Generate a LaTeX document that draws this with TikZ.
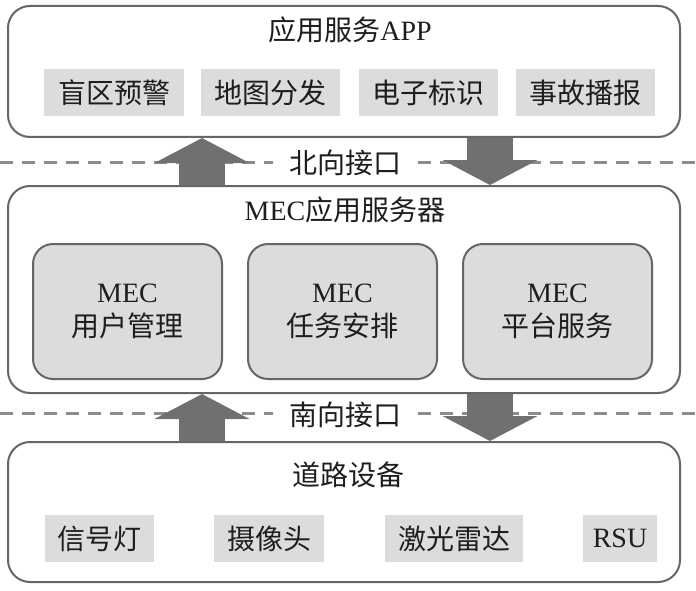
\documentclass[tikz,border=0pt]{standalone}
\usepackage{fontspec}
\setmainfont{Liberation Serif}
\newfontfamily\cjk{Noto Sans CJK SC}
\usetikzlibrary{arrows.meta}
\definecolor{bordergray}{HTML}{666666}
\definecolor{arrowgray}{HTML}{707070}
\definecolor{dashgray}{HTML}{8C8C8C}
\definecolor{labelgray}{HTML}{DCDCDC}
\definecolor{textdark}{HTML}{1E1E1E}
\tikzset{
  bigbox/.style={draw=bordergray, line width=2pt, fill=white, rounded corners=22pt, minimum width=672pt},
  mecbox/.style={draw=bordergray, line width=2pt, fill=labelgray, rounded corners=20pt,
                 minimum width=189pt, minimum height=135pt, align=center, text=textdark,
                 font=\fontsize{28}{34}\selectfont},
  titletext/.style={text=textdark, font=\fontsize{28}{34}\selectfont, inner sep=0pt},
  tag/.style={fill=labelgray, minimum height=47pt, inner sep=0pt, text=textdark,
              font=\fontsize{28}{34}\selectfont},
  dashline/.style={draw=dashgray, line width=3pt, dash pattern=on 13pt off 9pt},
  fatarrow/.style={draw=arrowgray, line width=46pt,
                   -{Triangle[length=25pt,width=95pt,line width=0pt]}},
  iface/.style={fill=white, inner xsep=16pt, inner ysep=3pt, text=textdark,
                font=\fontsize{28}{34}\selectfont}
}
\begin{document}
\begin{tikzpicture}[x=1pt,y=-1pt]
\useasboundingbox (0,0) rectangle (696,591);
% dashed separators
\coordinate (dl1) at (0,162); \coordinate (dr1) at (696,162);
\coordinate (dl2) at (0,413); \coordinate (dr2) at (696,413);
\draw[dashline] (dl1) -- (dr1);
\draw[dashline] (dl2) -- (dr2);
% layer boxes
\node[bigbox, minimum height=131pt] (app) at (344,71.5) {};
\node[bigbox, minimum height=207pt] (mec) at (344,289.5) {};
\node[bigbox, minimum height=140pt] (road) at (344,512) {};
% titles
\node[titletext] (apptitle) at (350,30) {{\cjk 应用服务}APP};
\node[titletext] (mectitle) at (345,210) {MEC{\cjk 应用服务器}};
\node[titletext] (roadtitle) at (348,475) {\cjk 道路设备};
% application tags
\node[tag, minimum width=140pt] (t1) at (114,92.5) {\cjk 盲区预警};
\node[tag, minimum width=139pt] (t2) at (270.5,92.5) {\cjk 地图分发};
\node[tag, minimum width=139pt] (t3) at (428.5,92.5) {\cjk 电子标识};
\node[tag, minimum width=139pt] (t4) at (585.5,92.5) {\cjk 事故播报};
% MEC modules
\node[mecbox] (m1) at (127.5,311.5) {MEC\\{\cjk 用户管理}};
\node[mecbox] (m2) at (342.5,311.5) {MEC\\{\cjk 任务安排}};
\node[mecbox] (m3) at (557.5,311.5) {MEC\\{\cjk 平台服务}};
% road devices
\node[tag, minimum width=109pt] (d1) at (99.5,538.5) {\cjk 信号灯};
\node[tag, minimum width=110pt] (d2) at (269,538.5) {\cjk 摄像头};
\node[tag, minimum width=138pt] (d3) at (454,538.5) {\cjk 激光雷达};
\node[tag, minimum width=74pt] (d4) at (620,538.5) {RSU};
% arrows
\coordinate (upx) at (202,0);
\coordinate (dnx) at (490,0);
\draw[fatarrow] (mec.north -| upx) -- (app.south -| upx);
\draw[fatarrow] (app.south -| dnx) -- (mec.north -| dnx);
\draw[fatarrow] (road.north -| upx) -- (mec.south -| upx);
\draw[fatarrow] (mec.south -| dnx) -- (road.north -| dnx);
% interface labels
\node[iface] (north) at (345,163) {\cjk 北向接口};
\node[iface] (south) at (345,415) {\cjk 南向接口};
\end{tikzpicture}
\end{document}
